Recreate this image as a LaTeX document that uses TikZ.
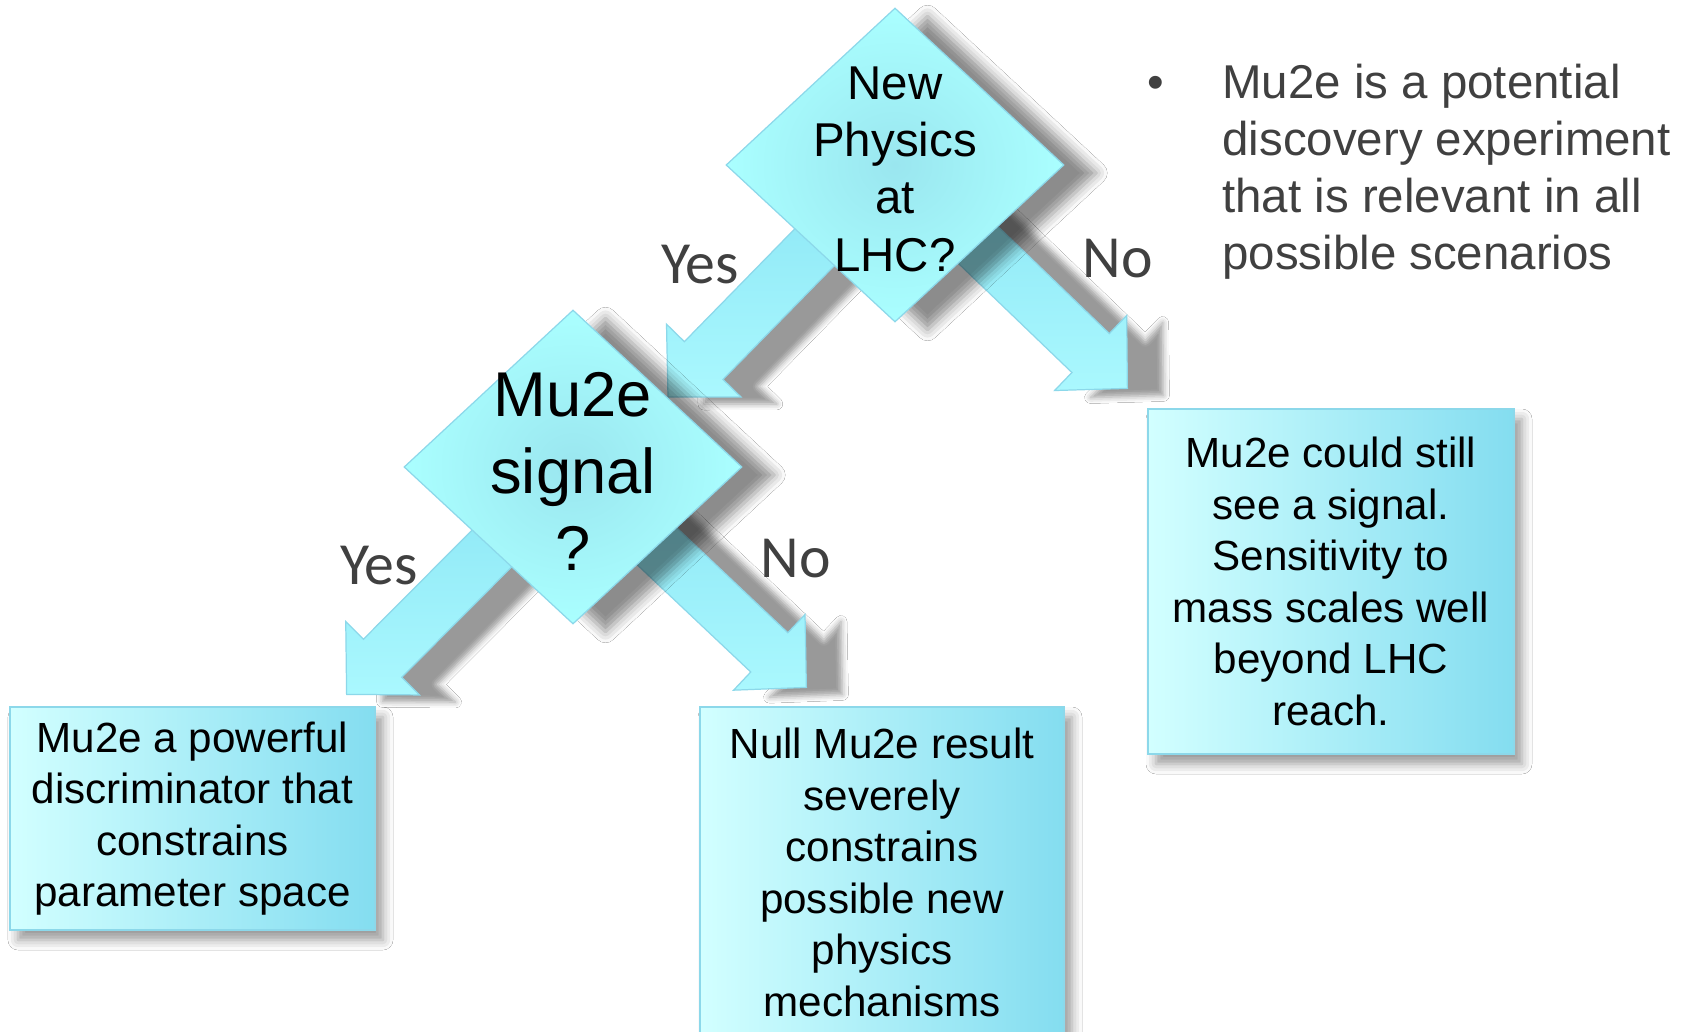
\documentclass[tikz,border=0pt]{standalone}
\usepackage{fontspec}
\setmainfont{Liberation Sans}
\newfontfamily\labelfont{Carlito}
\usetikzlibrary{shapes.geometric, calc, shadows.blur}

\definecolor{diamlight}{HTML}{AAFFFF}
\definecolor{diamdark}{HTML}{9AE6EF}
\definecolor{boxlight}{HTML}{D2FFFF}
\definecolor{boxmid}{HTML}{A8E6EE}
\definecolor{boxdark}{HTML}{84DDF0}
\definecolor{edgeblue}{HTML}{8CD8EA}
\definecolor{arrowlight}{HTML}{AAF8FE}
\definecolor{arrowdark}{HTML}{88E4F4}
\definecolor{textgray}{HTML}{404040}

\begin{document}
\begin{tikzpicture}[x=0.2mm, y=-0.2mm,
    question/.style={diamond, draw=edgeblue, line width=0.7pt, inner color=diamdark, outer color=diamlight,
        minimum width=67.6mm, minimum height=62.8mm, inner sep=0pt,
        blur shadow={shadow xshift=6.5mm, shadow yshift=-1.6mm, shadow blur radius=2.2mm, shadow opacity=45}},
    outcome/.style={rectangle, draw=edgeblue, line width=0.7pt, left color=boxlight, middle color=boxmid, right color=boxdark,
        align=center, font=\fontsize{24}{29.3}\selectfont, inner sep=0pt,
        blur shadow={shadow xshift=1.6mm, shadow yshift=-2mm, shadow blur radius=2mm, shadow opacity=40}},
    fatarrow/.style={draw=edgeblue, line width=0.7pt, top color=arrowdark, bottom color=arrowlight,
        blur shadow={shadow xshift=7.2mm, shadow yshift=-1.4mm, shadow blur radius=1.2mm, shadow opacity=40}},
    answer/.style={text=textgray, font=\labelfont\fontsize{34}{40}\selectfont, inner sep=0pt}
  ]
  \fill[white] (0,0) rectangle (1686,1032);
  \useasboundingbox (0,0) rectangle (1686,1032);

  % outcomes
  \node[outcome, minimum width=73mm, minimum height=44.6mm] (powerful) at (192.5,818.5)
    {Mu2e a powerful\\discriminator that\\constrains\\parameter space};
  \node[outcome, minimum width=72.8mm, minimum height=66.2mm] (null) at (882,872.5)
    {Null Mu2e result\\severely\\constrains\\possible new\\physics\\mechanisms};
  \node[outcome, minimum width=73.2mm, minimum height=69mm] (reach) at (1331,581.5)
    {Mu2e could still\\see a signal.\\Sensitivity to\\mass scales well\\beyond LHC\\reach.};

  % centres of the questions, the arrows start under them
  \coordinate (lhcc) at (895,165);
  \coordinate (sigc) at (573,467);
  \coordinate (yes1tip) at ($(sigc)+(95,-70)$);
  \coordinate (no1tip) at ($(reach.north west)+(-20,-20)$);
  \coordinate (yes2tip) at ($(powerful.north east)+(-29,-12)$);
  \coordinate (no2tip) at ($(null.north west)+(107,-19)$);

  \foreach \from/\to in {lhcc/yes1tip, lhcc/no1tip, sigc/yes2tip, sigc/no2tip} {
    \coordinate (h) at ($(\to)!10.2mm!(\from)$);
    \path[fatarrow] ($(\from)!5.4mm!-90:(\to)$) -- ($(h)!5.4mm!90:(\from)$) -- ($(h)!10.4mm!90:(\from)$) -- (\to)
      -- ($(h)!10.4mm!-90:(\from)$) -- ($(h)!5.4mm!-90:(\from)$) -- ($(\from)!5.4mm!90:(\to)$) -- cycle;
  }

  % the two questions
  \node[question] (lhc) at (lhcc) {};
  \node[font=\fontsize{27}{32.6}\selectfont, align=center] (lhctext) at ($(lhc)+(0,4)$) {New\\Physics\\at\\LHC?};
  \node[question] (sig) at (sigc) {};
  \node[font=\fontsize{36}{43.8}\selectfont, align=center] (sigtext) at ($(sig)+(0,4)$) {Mu2e\\signal\\?};

  \node[answer] (yes1) at (700,265) {Yes};
  \node[answer] (no1) at (1118,259) {No};
  \node[answer] (yes2) at (379,566) {Yes};
  \node[answer] (no2) at (796,559) {No};

  \node[text=textgray, font=\fontsize{27}{32.6}\selectfont, inner sep=0pt] (bullet) at (1156,87) {\textbullet};
  \node[text=textgray, font=\fontsize{27}{32.6}\selectfont, anchor=base west, align=left, inner sep=0pt] (claim) at (1222,270)
    {Mu2e is a potential\\discovery experiment\\that is relevant in all\\possible scenarios};
\end{tikzpicture}
\end{document}
